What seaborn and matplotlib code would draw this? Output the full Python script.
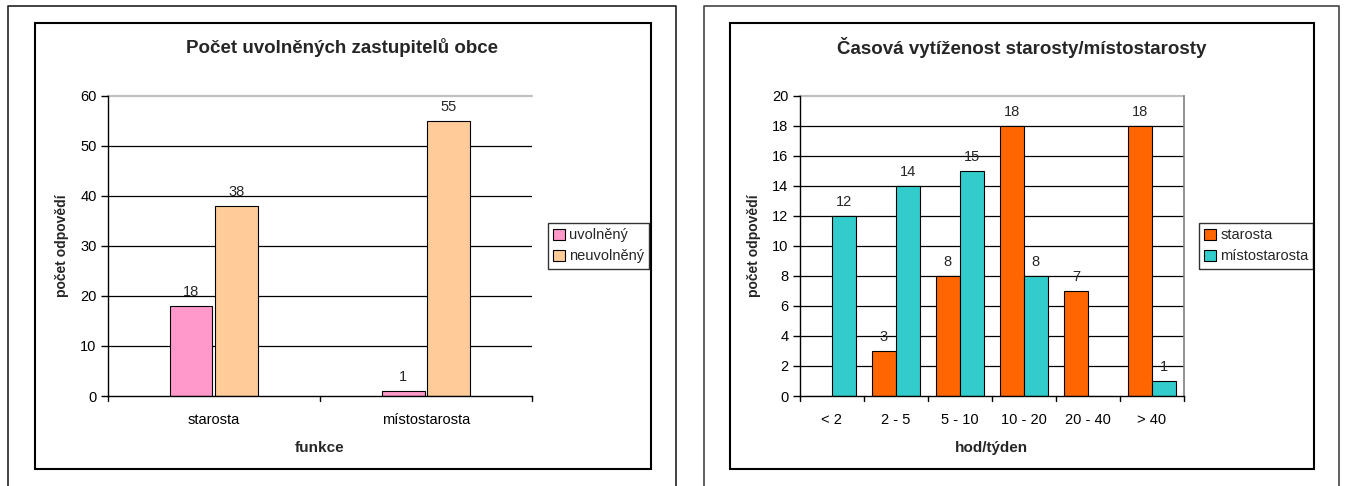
import matplotlib
matplotlib.use("Agg")
import matplotlib.pyplot as plt
from matplotlib.patches import Rectangle
from matplotlib.lines import Line2D
import seaborn as sns
import pandas as pd

# ---- data ----
left_categories = ["starosta", "místostarosta"]
left_series = ["uvolněný", "neuvolněný"]
left_uvolneny = [18, 1]
left_neuvolneny = [38, 55]

right_categories = ["< 2", "2 - 5", "5 - 10", "10 - 20", "20 - 40", "> 40"]
right_series = ["starosta", "místostarosta"]
right_starosta = [0, 3, 8, 18, 7, 18]
right_mistostarosta = [12, 14, 15, 8, 0, 1]

left_colors = ["#FF99CC", "#FFCC99"]
right_colors = ["#FF6600", "#33CCCC"]

sns.set_theme(style="white")
plt.rcParams["font.family"] = ["Liberation Sans", "DejaVu Sans"]

W, H = 1346, 486
fig = plt.figure(figsize=(W / 100, H / 100), dpi=100)
fig.patch.set_facecolor("white")


def px_rect(x0, y0, x1, y1):
    return [x0 / W, 1 - y1 / H, (x1 - x0) / W, (y1 - y0) / H]


def fig_line(xs, ys, color, lw):
    fig.add_artist(Line2D([x / W for x in xs], [1 - y / H for y in ys],
                          color=color, lw=lw, transform=fig.transFigure))


# outer frames (open at bottom)
fig_line([8, 8, 676, 676], [486, 6.5, 6.5, 486], "#222222", 1.2)
fig_line([704, 704, 1339, 1339], [486, 6.5, 6.5, 486], "#444444", 1.2)
# inner chart boxes
for (x0, x1) in [(34.5, 650.5), (730, 1313.5)]:
    fig.add_artist(Rectangle((x0 / W, 1 - 468.5 / H), (x1 - x0) / W, (468.5 - 23) / H,
                             fill=False, edgecolor="black", lw=1.5,
                             transform=fig.transFigure))

ax1 = fig.add_axes(px_rect(107.7, 95.7, 532, 396))
ax2 = fig.add_axes(px_rect(799.5, 95.7, 1184, 396))

df1 = pd.DataFrame({
    "funkce": left_categories * 2,
    "series": [left_series[0]] * 2 + [left_series[1]] * 2,
    "value": left_uvolneny + left_neuvolneny,
})
df2 = pd.DataFrame({
    "kat": right_categories * 2,
    "series": [right_series[0]] * 6 + [right_series[1]] * 6,
    "value": right_starosta + right_mistostarosta,
})

sns.barplot(data=df1, x="funkce", y="value", hue="series", order=left_categories,
            hue_order=left_series, palette=left_colors, width=0.43, gap=0.06,
            edgecolor="black", linewidth=0.8, ax=ax1, legend=False, errorbar=None,
            saturation=1)
sns.barplot(data=df2, x="kat", y="value", hue="series", order=right_categories,
            hue_order=right_series, palette=right_colors, width=0.75, gap=0.0,
            edgecolor="black", linewidth=0.8, ax=ax2, legend=False, errorbar=None,
            saturation=1)

fs_tick = 10.5
for ax, ymax, step, ncat, xlabel, series, colors, vals in [
    (ax1, 60, 10, 2, "funkce", left_series, left_colors,
     [left_uvolneny, left_neuvolneny]),
    (ax2, 20, 2, 6, "hod/týden", right_series, right_colors,
     [right_starosta, right_mistostarosta]),
]:
    ax.set_ylim(0, ymax)
    ax.set_xlim(-0.5, ncat - 0.5)
    ax.set_yticks(range(0, ymax + 1, step))
    for y in range(step, ymax, step):
        ax.axhline(y, color="black", lw=0.9, zorder=0)
    ax.axhline(ymax, color="#C0C0C0", lw=1.6, zorder=0, clip_on=False)
    ax.spines["left"].set_color("black")
    ax.spines["bottom"].set_color("black")
    ax.spines["left"].set_linewidth(1.0)
    ax.spines["bottom"].set_linewidth(1.0)
    ax.spines["top"].set_visible(False)
    if ax is ax2:
        ax.spines["right"].set_color("#808080")
        ax.spines["right"].set_linewidth(1.2)
    else:
        ax.spines["right"].set_visible(False)
    ax.tick_params(axis="y", left=True, length=5, width=1, color="black",
                   labelsize=fs_tick, pad=3, labelcolor="black")
    ax.tick_params(axis="x", bottom=False, labelsize=fs_tick, pad=6, labelcolor="black")
    # category boundary ticks
    for b in range(ncat + 1):
        ax.plot([b - 0.5, b - 0.5], [0, -ymax * 0.018], color="black", lw=1,
                clip_on=False, transform=ax.transData)
    ax.set_xlabel(xlabel, fontsize=11, fontweight="bold", labelpad=10)
    ax.set_ylabel("počet odpovědí", fontsize=10, fontweight="bold", labelpad=8)
    ax.set_facecolor("none")
    # data labels
    for cont, v in zip(ax.containers, vals):
        labels = [str(x) if x != 0 else "" for x in v]
        ax.bar_label(cont, labels=labels, padding=5, fontsize=fs_tick)
    handles = [Rectangle((0, 0), 1, 1, facecolor=c, edgecolor="black", lw=0.8)
               for c in colors]
    leg = ax.legend(handles, series, loc="center left", bbox_to_anchor=(1.02, 0.5),
                    fontsize=10.5, frameon=True, fancybox=False, handlelength=0.8,
                    handleheight=0.8, handletextpad=0.3, borderpad=0.35,
                    labelspacing=0.5, borderaxespad=0.5)
    leg.get_frame().set_edgecolor("black")
    leg.get_frame().set_linewidth(1.0)

fig.text((35 + 650) / 2 / W, 1 - 47 / H, "Počet uvolněných zastupitelů obce",
         ha="center", va="center", fontsize=13.5, fontweight="bold")
fig.text((730 + 1313) / 2 / W, 1 - 47 / H, "Časová vytíženost starosty/místostarosty",
         ha="center", va="center", fontsize=13.5, fontweight="bold")

fig.savefig("out.png", dpi=100, facecolor="white")
